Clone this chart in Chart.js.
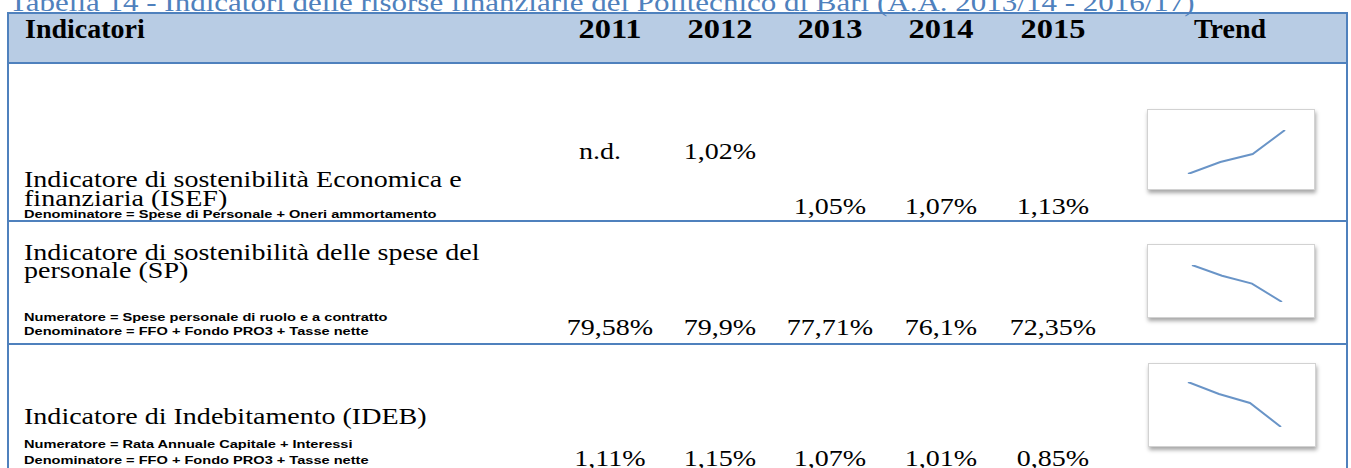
<!DOCTYPE html>
<html>
<head>
<meta charset="utf-8">
<script src="https://cdn.jsdelivr.net/npm/chart.js@4.4.0/dist/chart.umd.min.js"></script>
<style>
html, body { margin: 0; padding: 0; background: #fff; }
#page { position: relative; width: 1351px; height: 468px; overflow: hidden; }
#grid { position: absolute; left: 0; top: 0; }
.spark {
    position: absolute; box-sizing: border-box; background: #fff;
    border: 1px solid #d2d2d2; box-shadow: 1px 3px 4px rgba(0,0,0,0.35);
}
.spark canvas { display: block; }
</style>
</head>
<body>
<div id="page"><svg id="grid" width="1351" height="468"></svg></div>
<script>
// table data
const title = "Tabella 14 - Indicatori delle risorse finanziarie del Politecnico di Bari (A.A. 2013/14 - 2016/17)";
const headFirst = "Indicatori";
const headTrend = "Trend";
const years = ["2011", "2012", "2013", "2014", "2015"];

const isefLabel = ["Indicatore di sostenibilità Economica e", "finanziaria (ISEF)"];
const isefNotes = ["Denominatore = Spese di Personale + Oneri ammortamento"];
const isefValues = [null, 1.02, 1.05, 1.07, 1.13];

const spLabel = ["Indicatore di sostenibilità delle spese del", "personale (SP)"];
const spNotes = ["Numeratore = Spese personale di ruolo e a contratto", "Denominatore = FFO + Fondo PRO3 + Tasse nette"];
const spValues = [79.58, 79.9, 77.71, 76.1, 72.35];

const idebLabel = ["Indicatore di Indebitamento (IDEB)"];
const idebNotes = ["Numeratore = Rata Annuale Capitale + Interessi", "Denominatore = FFO + Fondo PRO3 + Tasse nette"];
const idebValues = [1.11, 1.15, 1.07, 1.01, 0.85];

// the trend pictures plot 2012-2015
const trendFrom = 1;

const rows = [
    { label: isefLabel, notes: isefNotes, values: isefValues },
    { label: spLabel, notes: spNotes, values: spValues },
    { label: idebLabel, notes: idebNotes, values: idebValues }
];

// layout
const blue = "#4F81BD";
const colX = [610, 720, 830, 941, 1053];
const serif = { family: "'Liberation Serif', serif", size: 23, sx: 1.22 };
const serifBold = { family: "'Liberation Serif', serif", size: 28, sx: 1, weight: "bold" };
const yearBold = { family: "'Liberation Serif', serif", size: 28, sx: 1.16, weight: "bold" };
const small = { family: "'Liberation Sans', Arial, sans-serif", size: 11.5, sx: 1.27, weight: "bold" };
const titleFont = { family: "'Liberation Serif', serif", size: 25, sx: 1.24, color: blue };

const rowLayout = [
    { labelY: [187, 206], noteY: [218], valY: [159, 159, 214, 214, 214],
      spark: { x: 1147, y: 109, w: 168, h: 81, pad: { left: 40, right: 29, top: 20, bottom: 15 } } },
    { labelY: [260, 278], noteY: [321, 335], valY: [335, 335, 335, 335, 335],
      spark: { x: 1147, y: 244, w: 168, h: 74, pad: { left: 44, right: 32, top: 20, bottom: 15 } } },
    { labelY: [424], noteY: [448, 464], valY: [466, 466, 466, 466, 466],
      spark: { x: 1148, y: 363, w: 168, h: 84, pad: { left: 39, right: 34, top: 18, bottom: 19 } } }
];

const NS = "http://www.w3.org/2000/svg";
const svg = document.getElementById("grid");

function el(tag, attrs, text) {
    const e = document.createElementNS(NS, tag);
    for (const k in attrs) e.setAttribute(k, attrs[k]);
    if (text != null) e.textContent = text;
    svg.appendChild(e);
    return e;
}

function txt(s, x, y, f, anchor) {
    return el("text", {
        transform: `translate(${x},${y}) scale(${f.sx},1)`,
        "font-family": f.family, "font-size": f.size,
        "font-weight": f.weight || "normal", fill: f.color || "#000",
        "text-anchor": anchor || "start"
    }, s);
}

function fmt(v) {
    if (v == null) return "n.d.";
    return String(v).replace(".", ",") + "%";
}

// frame
el("rect", { x: 8, y: 13, width: 1339, height: 50, fill: "#B8CCE4" });
[13, 63, 221, 344].forEach(y => el("line", { x1: 7, x2: 1348, y1: y, y2: y, stroke: blue, "stroke-width": 2 }));
[8, 1347].forEach(x => el("line", { x1: x, x2: x, y1: 12, y2: 470, stroke: blue, "stroke-width": 2 }));

txt(title, 9, 11, titleFont);

// header
txt(headFirst, 25, 38, serifBold);
years.forEach((y, i) => txt(y, colX[i], 38, yearBold, "middle"));
txt(headTrend, 1230, 38, serifBold, "middle");

// rows
const page = document.getElementById("page");
rows.forEach((r, ri) => {
    const L = rowLayout[ri];
    r.label.forEach((s, i) => txt(s, 24, L.labelY[i], serif));
    r.notes.forEach((s, i) => txt(s, 24, L.noteY[i], small));
    // "n.d." sits a little left of the column centre
    r.values.forEach((v, i) => txt(fmt(v), colX[i] - (v == null ? 10 : 0), L.valY[i], serif, "middle"));

    const box = document.createElement("div");
    box.className = "spark";
    Object.assign(box.style, { left: L.spark.x + "px", top: L.spark.y + "px", width: L.spark.w + "px", height: L.spark.h + "px" });
    const cv = document.createElement("canvas");
    cv.width = L.spark.w - 2;
    cv.height = L.spark.h - 2;
    box.appendChild(cv);
    page.appendChild(box);

    const vals = r.values.slice(trendFrom);
    new Chart(cv, {
        type: "line",
        data: {
            labels: years.slice(trendFrom),
            datasets: [{
                data: vals,
                borderColor: "rgba(79,129,189,0.85)",
                borderWidth: 2,
                pointRadius: 0,
                tension: 0,
                fill: false
            }]
        },
        options: {
            responsive: false,
            animation: false,
            events: [],
            layout: { padding: L.spark.pad },
            plugins: { legend: { display: false }, tooltip: { enabled: false } },
            scales: {
                x: { display: false, offset: false },
                y: { display: false, min: Math.min(...vals), max: Math.max(...vals) }
            }
        }
    });
});
</script>
</body>
</html>
